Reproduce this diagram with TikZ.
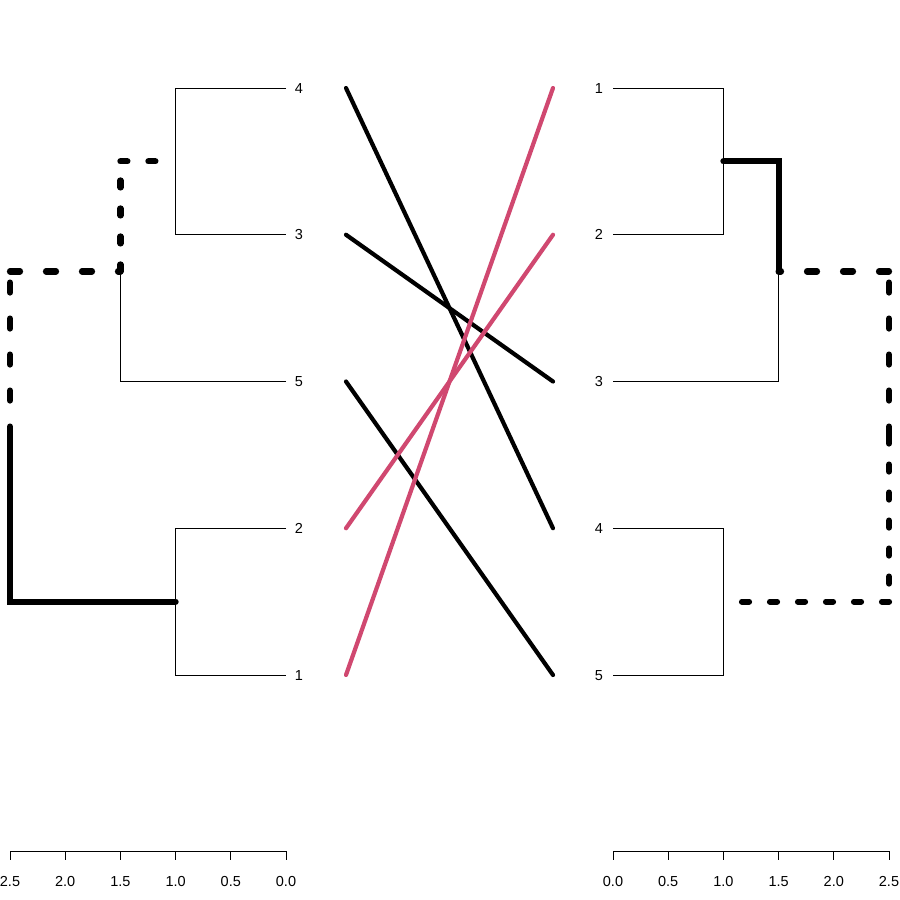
\documentclass[tikz,border=0pt]{standalone}
\usepackage{fontspec}
\setmainfont{Liberation Sans}
\definecolor{rosel}{RGB}{208,72,112}
\begin{document}
\begin{tikzpicture}[x=1pt,y=-1pt,
  branch/.style={line width=1pt},
  hl/.style={line width=6.2pt,line cap=round},
  hldash/.style={hl,dash pattern=on 10pt off 26pt},
  hldot/.style={hl,dash pattern=on 7pt off 21pt},
  tangle/.style={line width=4.2pt,line cap=round},
  lab/.style={font=\fontsize{14.5}{16}\selectfont, inner sep=0pt, anchor=base}]
\useasboundingbox (0,0) rectangle (900,900);
% ---------- left dendrogram ----------
\coordinate (Lroot) at (10,436.53);
\coordinate (LA) at (120.4,271.44);
\coordinate (LB) at (175.6,161.375);
\coordinate (LC) at (175.6,601.625);
\coordinate (Ll4) at (286,88);
\coordinate (Ll3) at (286,234.75);
\coordinate (Ll5) at (286,381.5);
\coordinate (Ll2) at (286,528.25);
\coordinate (Ll1) at (286,675);
\draw[branch] (Ll4) -| (LB) |- (Ll3);
\draw[branch] (Ll5) -| (LA);
\draw[branch] (Ll2) -| (LC) |- (Ll1);
\draw[hl] (Lroot) |- (LC);
\draw[hldash] (Lroot) -- (Lroot |- LA);
\draw[hldash] (Lroot |- LA) -- (LA);
\draw[hldot] (LA) -- (LA |- LB);
\draw[hldot] (LA |- LB) -- (LB);
\node[lab] (tL4) at (299,93.2) {4};
\node[lab] (tL3) at (299,239.95) {3};
\node[lab] (tL5) at (299,386.7) {5};
\node[lab] (tL2) at (299,533.45) {2};
\node[lab] (tL1) at (299,680.2) {1};
% ---------- right dendrogram ----------
\coordinate (Rroot) at (889,436.53);
\coordinate (RA) at (778.6,271.44);
\coordinate (RB) at (723.4,161.375);
\coordinate (RC) at (723.4,601.625);
\coordinate (Rl1) at (613,88);
\coordinate (Rl2) at (613,234.75);
\coordinate (Rl3) at (613,381.5);
\coordinate (Rl4) at (613,528.25);
\coordinate (Rl5) at (613,675);
\draw[branch] (Rl1) -| (RB) |- (Rl2);
\draw[branch] (Rl3) -| (RA);
\draw[branch] (Rl4) -| (RC) |- (Rl5);
\draw[hl] (RA) |- (RB);
\draw[hldash] (Rroot) -- (Rroot |- RA);
\draw[hldash] (Rroot |- RA) -- (RA);
\draw[hldot] (Rroot) -- (Rroot |- RC);
\draw[hldot] (Rroot |- RC) -- (RC);
\node[lab] (tR1) at (599,93.2) {1};
\node[lab] (tR2) at (599,239.95) {2};
\node[lab] (tR3) at (599,386.7) {3};
\node[lab] (tR4) at (599,533.45) {4};
\node[lab] (tR5) at (599,680.2) {5};
% ---------- connecting lines ----------
\coordinate (mL4) at (346,88);
\coordinate (mL3) at (346,234.75);
\coordinate (mL5) at (346,381.5);
\coordinate (mL2) at (346,528.25);
\coordinate (mL1) at (346,675);
\coordinate (mR1) at (553,88);
\coordinate (mR2) at (553,234.75);
\coordinate (mR3) at (553,381.5);
\coordinate (mR4) at (553,528.25);
\coordinate (mR5) at (553,675);
\draw[tangle] (mL4) -- (mR4);
\draw[tangle] (mL3) -- (mR3);
\draw[tangle] (mL5) -- (mR5);
\draw[tangle,rosel] (mL2) -- (mR2);
\draw[tangle,rosel] (mL1) -- (mR1);
% ---------- axes ----------
\coordinate (axLa) at (10,851);
\coordinate (axLb) at (286,851);
\coordinate (axRa) at (613,851);
\coordinate (axRb) at (889,851);
\draw[branch] (axLa) -- (axLb);
\draw[branch] (axRa) -- (axRb);
\foreach \v/\t in {0/0.0,1/0.5,2/1.0,3/1.5,4/2.0,5/2.5}{
  \draw[branch] (286-55.2*\v,851) -- (286-55.2*\v,860);
  \node[lab] (tkL\v) at (286-55.2*\v,886.5) {\t};
  \draw[branch] (613+55.2*\v,851) -- (613+55.2*\v,860);
  \node[lab] (tkR\v) at (613+55.2*\v,886.5) {\t};
}
\end{tikzpicture}
\end{document}
